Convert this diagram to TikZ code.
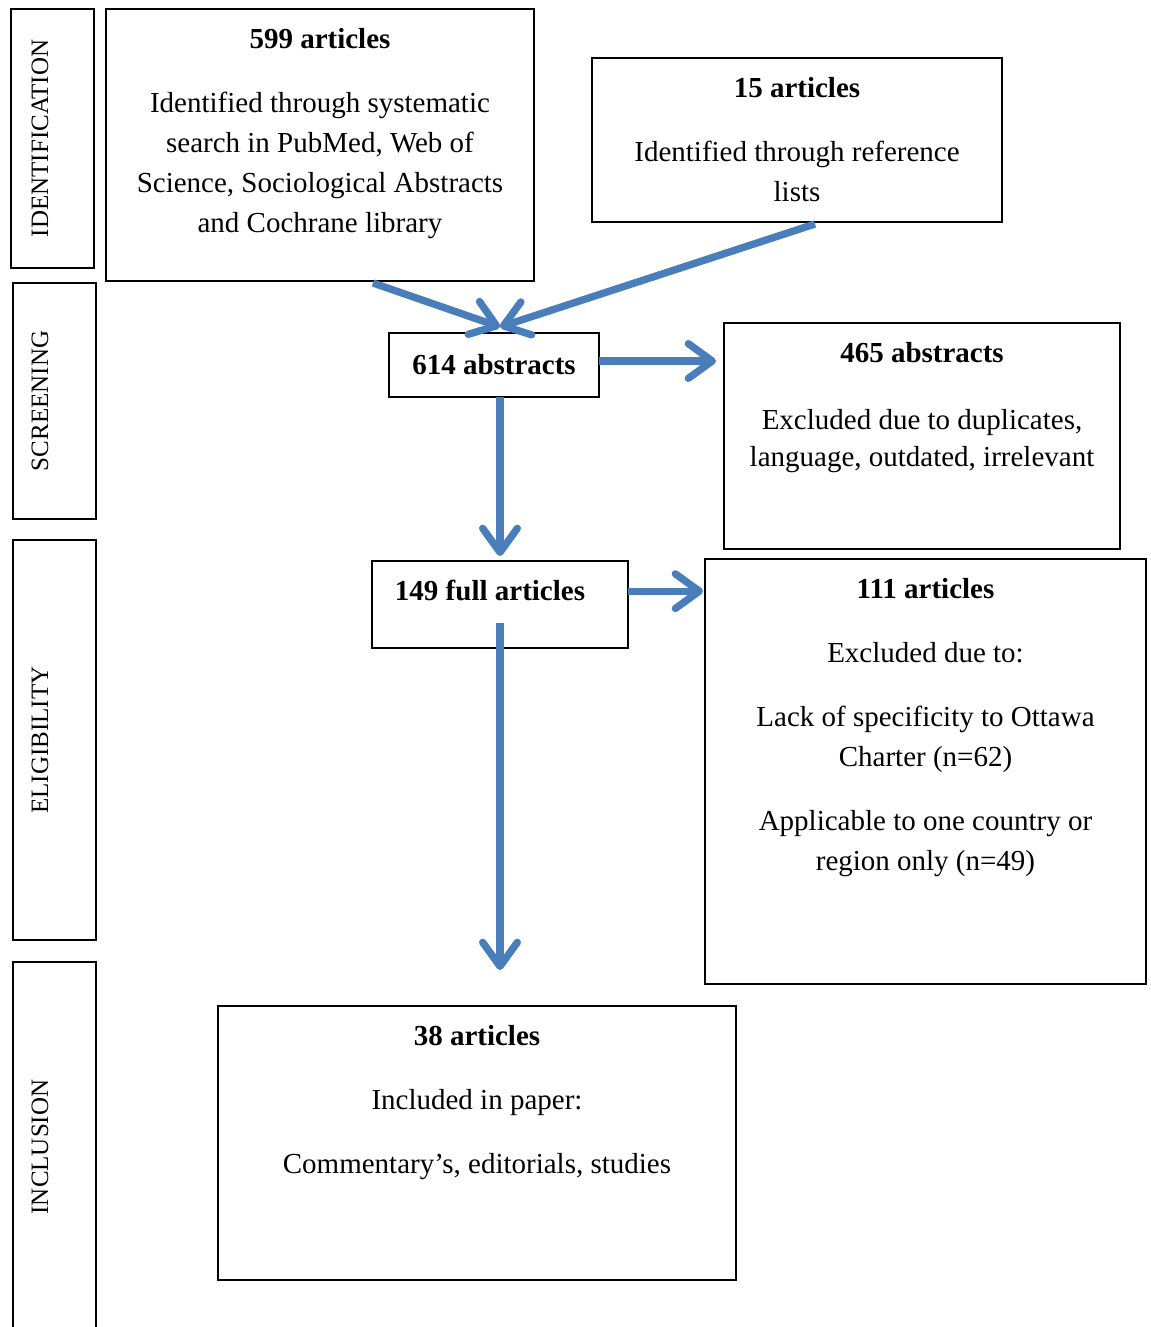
\documentclass[tikz,border=0pt]{standalone}
\usepackage{fontspec}
\setmainfont{Liberation Serif}
\usepackage{tikz}
\usetikzlibrary{arrows.meta, positioning, calc}
\definecolor{flowblue}{HTML}{4A7EBB}

\begin{document}
\begin{tikzpicture}[
            x=0.75pt, y=-0.75pt,
            box/.style={draw, line width=1.2pt, rectangle, inner sep=0pt, outer sep=0pt},
            stage/.style={box, minimum width=62.25pt},
            stagetext/.style={rotate=90, inner sep=0pt, font=\fontsize{18.75}{22}\selectfont},
            boxtext/.style={anchor=north, align=center, inner sep=0pt, font=\fontsize{21.75}{30}\selectfont},
            flow/.style={->, flowblue, line width=5.5pt},
            >={Straight Barb[length=18pt, width=26pt, round]}
        ]
            \clip (0,0) rectangle (1150,1327);

            % stage boxes on the left
            \node[stage, minimum height=194.25pt] (idstage) at (52.5,138.5) {};
            \node[stage, minimum height=177pt] (scrstage) at (54.5,401) {};
            \node[stage, minimum height=300pt] (elstage) at (54.5,740) {};
            \node[stage, minimum height=283.5pt] (incstage) at (54.5,1151) {};
            \node[stagetext] (idlabel) at (40,138.5) {IDENTIFICATION};
            \node[stagetext] (scrlabel) at (40,401) {SCREENING};
            \node[stagetext] (ellabel) at (40,740) {ELIGIBILITY};
            \node[stagetext] (inclabel) at (40,1147) {INCLUSION};

            % identification
            \node[box, minimum width=321pt, minimum height=204pt] (search) at (320,145) {};
            \node[boxtext] (searchtext) at ($(search.north)+(0,19)$)
                {\textbf{599 articles}\\[18pt]
                 Identified through systematic\\
                 search in PubMed, Web of\\
                 Science, Sociological Abstracts\\
                 and Cochrane library};
            \node[box, minimum width=307.5pt, minimum height=123pt] (refs) at (797,140) {};
            \node[boxtext] (refstext) at ($(refs.north)+(0,19)$)
                {\textbf{15 articles}\\[18pt]
                 Identified through reference\\
                 lists};

            % screening
            \node[box, minimum width=157.5pt, minimum height=48pt,
                  font=\fontsize{21.75}{30}\selectfont] (abs) at (494,365) {\textbf{614 abstracts}};
            \node[box, minimum width=297pt, minimum height=169.5pt] (absout) at (922,436) {};
            \node[boxtext] (absouttext) at ($(absout.north)+(0,19)$)
                {\textbf{465 abstracts}\\[20pt]
                 Excluded due to duplicates,\\[-2pt]
                 language, outdated, irrelevant};

            % eligibility
            \node[box, minimum width=192pt, minimum height=65.25pt] (full) at (500,604.5) {};
            \node[boxtext] (fulltext) at ($(full.north)+(-10,19)$) {\textbf{149 full articles}};
            \node[box, minimum width=330.75pt, minimum height=318.75pt] (fullout) at (925.5,771.5) {};
            \node[boxtext] (fullouttext) at ($(fullout.north)+(0,19)$)
                {\textbf{111 articles}\\[18pt]
                 Excluded due to:\\[18pt]
                 Lack of specificity to Ottawa\\
                 Charter (n=62)\\[18pt]
                 Applicable to one country or\\
                 region only (n=49)};

            % inclusion
            \node[box, minimum width=388.5pt, minimum height=205.5pt] (incl) at (477,1143) {};
            \node[boxtext] (incltext) at ($(incl.north)+(0,19)$)
                {\textbf{38 articles}\\[18pt]
                 Included in paper:\\[18pt]
                 Commentary's, editorials, studies};

            % Edges
            \coordinate (merge) at (500,327);
            \coordinate (down) at (500,970);
            \draw[flow] ($(search.south)+(53,2)$) -- (merge);
            \draw[flow] ($(refs.south)+(18,2)$) -- (merge);
            \draw[flow, shorten >=6pt] ([yshift=3pt]abs.east) -- ([yshift=3pt]abs.east -| absout.west);
            \draw[flow, shorten >=3.75pt] (abs.south -| full.north) -- (full.north);
            \draw[flow, shorten >=1.5pt] ([yshift=10pt]full.east) -- ([yshift=10pt]full.east -| fullout.west);
            \draw[flow] ($(full.center)+(0,18)$) -- (down);
        \end{tikzpicture}
\end{document}
